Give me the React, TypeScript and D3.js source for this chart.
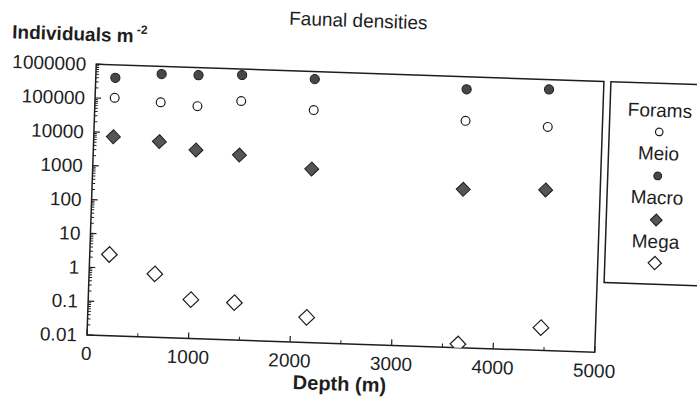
import React from "react";
import * as d3 from "d3";

const depths = [193, 647, 1010, 1439, 2155, 3652, 4463];
const forams = [106000, 87000, 73000, 114000, 73000, 50000, 40000];
const meio = [414000, 593000, 600000, 670000, 600000, 427000, 513000];
const macro = [7500, 6000, 3700, 2900, 1330, 475, 550];
const mega = [2.5, 0.74, 0.14, 0.126, 0.055, 0.0128, 0.047];

const xTicks = [0, 1000, 2000, 3000, 4000, 5000];
const xMinor = [500, 1500, 2500, 3500, 4500];
const yTicks = [0.01, 0.1, 1, 10, 100, 1000, 10000, 100000, 1000000];
const yTickLabels = ["0.01", "0.1", "1", "10", "100", "1000", "10000", "100000", "1000000"];
const legendNames = ["Forams", "Meio", "Macro", "Mega"];

const W = 697;
const H = 401;
const L = 87, R = 595, T = 64, B = 335;
const FONT = "'Liberation Sans', Arial, Helvetica, sans-serif";
const INK = "#1e1e1e";

type Kind = "openCircle" | "filledCircle" | "filledDiamond" | "openDiamond";

function Marker({ kind, x, y, s = 1 }: { kind: Kind; x: number; y: number; s?: number }) {
  if (kind === "openCircle")
    return <circle cx={x} cy={y} r={4.4 * s} fill="#fff" stroke={INK} strokeWidth={1.2} />;
  if (kind === "filledCircle")
    return <circle cx={x} cy={y} r={4.6 * s} fill="#474747" stroke={INK} strokeWidth={1} />;
  const h = (kind === "filledDiamond" ? 7 : 7.8) * s;
  const pts = `${x},${y - h} ${x + h},${y} ${x},${y + h} ${x - h},${y}`;
  if (kind === "filledDiamond")
    return <polygon points={pts} fill="#555" stroke={INK} strokeWidth={1} />;
  return <polygon points={pts} fill="#fff" stroke={INK} strokeWidth={1.2} />;
}

export default function App() {
  const x = d3.scaleLinear().domain([0, 5000]).range([L, R]);
  const y = d3.scaleLog().domain([0.01, 1000000]).range([B, T]);

  const minorY: number[] = [];
  for (let e = -2; e < 6; e++) {
    for (let m = 2; m <= 9; m++) minorY.push(m * Math.pow(10, e));
  }

  const series: { name: string; kind: Kind; values: number[] }[] = [
    { name: "Forams", kind: "openCircle", values: forams },
    { name: "Meio", kind: "filledCircle", values: meio },
    { name: "Macro", kind: "filledDiamond", values: macro },
    { name: "Mega", kind: "openDiamond", values: mega },
  ];

  const legendX = 652;
  const legendTextY = [97.5, 140.6, 184.7, 228.7];
  const legendMarkY = [112.6, 156.6, 200.7, 243.8];

  return (
    <svg
      width={W}
      height={H}
      viewBox={`0 0 ${W} ${H}`}
      style={{ position: "absolute", left: 0, top: 0, background: "#fff" }}
      fontFamily={FONT}
    >
      <defs>
        <clipPath id="plotClip">
          <rect x={L} y={T} width={R - L} height={B - T} />
        </clipPath>
      </defs>
      <g transform={`rotate(1.95, ${L}, ${B})`}>
        <text x={347.5} y={18} textAnchor="middle" fontSize={19} fill={INK}>
          Faunal densities
        </text>
        <text x={2} y={41} fontSize={19} fontWeight="bold" fill={INK}>
          Individuals m
          <tspan fontSize={12} dx={3} dy={-9}>-2</tspan>
        </text>

        {/* plot frame */}
        <rect x={L} y={T} width={R - L} height={B - T} fill="none" stroke={INK} strokeWidth={1.5} />

        {/* y ticks */}
        {yTicks.map((v, i) => (
          <g key={"yt" + i}>
            <line x1={L} x2={L + 6} y1={y(v)} y2={y(v)} stroke={INK} strokeWidth={1.2} />
            <text x={77} y={y(v)} dy={6.8} textAnchor="end" fontSize={19} fill={INK}>
              {yTickLabels[i]}
            </text>
          </g>
        ))}
        {minorY.map((v, i) => (
          <line key={"ym" + i} x1={L} x2={L + 3} y1={y(v)} y2={y(v)} stroke={INK} strokeWidth={1} />
        ))}

        {/* x ticks */}
        {xTicks.map((v) => (
          <g key={"xt" + v}>
            <line x1={x(v)} x2={x(v)} y1={B} y2={B - 6} stroke={INK} strokeWidth={1.2} />
            <text x={x(v)} y={360} textAnchor="middle" fontSize={19} fill={INK}>
              {v}
            </text>
          </g>
        ))}
        {xMinor.map((v) => (
          <line key={"xm" + v} x1={x(v)} x2={x(v)} y1={B} y2={B - 3.5} stroke={INK} strokeWidth={1} />
        ))}

        <text x={341} y={382} textAnchor="middle" fontSize={20} fontWeight="bold" fill={INK}>
          Depth (m)
        </text>

        {/* data */}
        <g clipPath="url(#plotClip)">
          {series.map((s) =>
            s.values.map((v, i) => (
              <Marker key={s.name + i} kind={s.kind} x={x(depths[i])} y={y(v)} />
            ))
          )}
        </g>

        {/* legend */}
        <rect x={602} y={T} width={130} height={201} fill="#fff" stroke={INK} strokeWidth={1.5} />
        {series.map((s, i) => (
          <g key={"lg" + s.name}>
            <text x={legendX} y={legendTextY[i]} textAnchor="middle" fontSize={19} fill={INK}>
              {legendNames[i]}
            </text>
            <Marker kind={s.kind} x={legendX} y={legendMarkY[i]} s={0.85} />
          </g>
        ))}
      </g>
    </svg>
  );
}
